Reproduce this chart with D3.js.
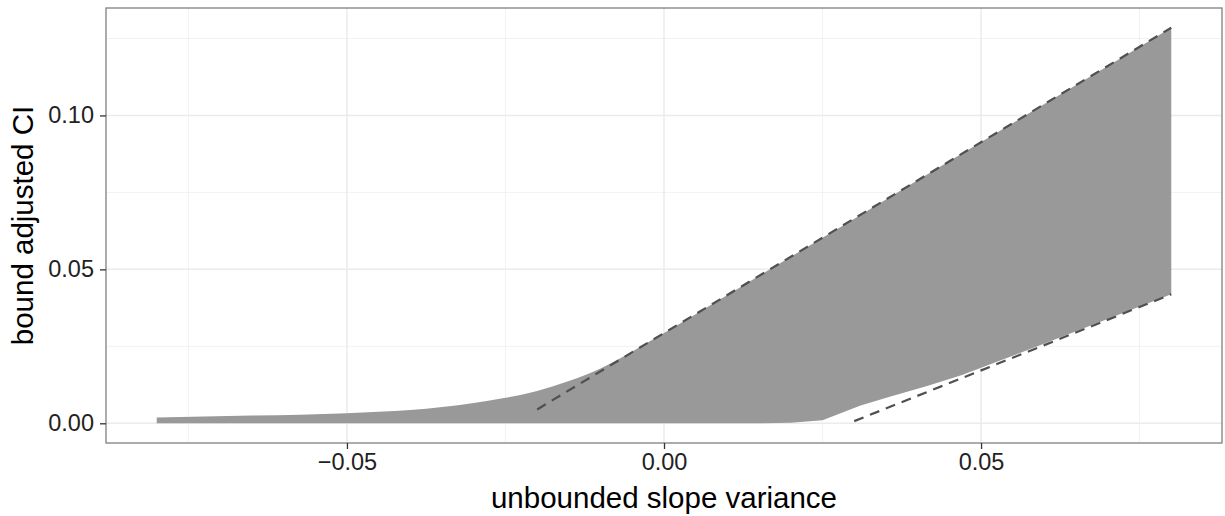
<!DOCTYPE html>
<html>
<head>
<meta charset="utf-8">
<script src="https://cdn.jsdelivr.net/npm/d3@7"></script>
<style>
  body { margin: 0; background: #fff; }
  svg { display: block; font-family: "Liberation Sans", Arial, Helvetica, sans-serif; }
</style>
</head>
<body>
<div id="chart"></div>
<script>
// ribbon
let ribbonX = [-0.08, -0.065, -0.05, -0.04, -0.035, -0.03, -0.025, -0.02, -0.015, -0.01, -0.005, 0,
  0.015, 0.02, 0.025, 0.031, 0.036, 0.0415, 0.047, 0.06, 0.08];
let ribbonUpper = [0.0019, 0.0025, 0.0033, 0.0043, 0.0053, 0.0066, 0.0083, 0.0105, 0.0137, 0.0178, 0.0233, 0.0293,
  0.0479, 0.0541, 0.0603, 0.0677, 0.0739, 0.0808, 0.0876, 0.1037, 0.1285];
let ribbonLower = [0, 0, 0, 0, 0, 0, 0, 0, 0, 0, 0, 0,
  0, 0.0002, 0.0010, 0.0058, 0.0089, 0.0121, 0.0157, 0.0259, 0.0419];

// dashed reference lines
let upperLineX = [-0.02, 0.08];
let upperLineY = [0.0045, 0.1285];
let lowerLineX = [0.03, 0.08];
let lowerLineY = [0.0007, 0.0419];

let xTicks = [-0.05, 0, 0.05];
let xMinor = [-0.075, -0.025, 0.025, 0.075];
let yTicks = [0, 0.05, 0.10];
let yMinor = [0.025, 0.075, 0.125];

let width = 1225;
let height = 516;

let panel = { left: 106, right: 1222, top: 8, bottom: 443 };

let svg = d3.select("#chart")
  .append("svg")
  .attr("width", width)
  .attr("height", height);

let xScale = d3.scaleLinear()
  .domain([-0.088, 0.088])
  .range([panel.left, panel.right]);

let yScale = d3.scaleLinear()
  .domain([-0.0064, 0.1349])
  .range([panel.bottom, panel.top]);

// grid
let grid = svg.append("g");
grid.selectAll(".xminor").data(xMinor).enter().append("line")
  .attr("x1", d => xScale(d)).attr("x2", d => xScale(d))
  .attr("y1", panel.top).attr("y2", panel.bottom)
  .attr("stroke", "#f2f2f2").attr("stroke-width", 1);
grid.selectAll(".yminor").data(yMinor).enter().append("line")
  .attr("y1", d => yScale(d)).attr("y2", d => yScale(d))
  .attr("x1", panel.left).attr("x2", panel.right)
  .attr("stroke", "#f2f2f2").attr("stroke-width", 1);
grid.selectAll(".xmajor").data(xTicks).enter().append("line")
  .attr("x1", d => xScale(d)).attr("x2", d => xScale(d))
  .attr("y1", panel.top).attr("y2", panel.bottom)
  .attr("stroke", "#ebebeb").attr("stroke-width", 1.5);
grid.selectAll(".ymajor").data(yTicks).enter().append("line")
  .attr("y1", d => yScale(d)).attr("y2", d => yScale(d))
  .attr("x1", panel.left).attr("x2", panel.right)
  .attr("stroke", "#ebebeb").attr("stroke-width", 1.5);

// ribbon: smooth upper edge, straight lower edge with its kink
let upperPts = ribbonX.map((x, i) => [x, ribbonUpper[i]]);
let lowerPts = ribbonX.map((x, i) => [x, ribbonLower[i]]).reverse();

let smoothLine = d3.line()
  .x(d => xScale(d[0]))
  .y(d => yScale(d[1]))
  .curve(d3.curveMonotoneX);
let line = d3.line()
  .x(d => xScale(d[0]))
  .y(d => yScale(d[1]));

svg.append("path")
  .attr("d", smoothLine(upperPts) + "L" + line(lowerPts).slice(1) + "Z")
  .attr("fill", "#999999");

// dashed lines
[[upperLineX, upperLineY], [lowerLineX, lowerLineY]].forEach(function(pair) {
  svg.append("path")
    .datum(pair[0].map((x, i) => [x, pair[1][i]]))
    .attr("d", line)
    .attr("fill", "none")
    .attr("stroke", "#505050")
    .attr("stroke-width", 2.2)
    .attr("stroke-dasharray", "10,7");
});

// panel border
svg.append("rect")
  .attr("x", panel.left)
  .attr("y", panel.top)
  .attr("width", panel.right - panel.left)
  .attr("height", panel.bottom - panel.top)
  .attr("fill", "none")
  .attr("stroke", "#808080")
  .attr("stroke-width", 1.3);

// axes
let xAxis = d3.axisBottom(xScale)
  .tickValues(xTicks)
  .tickSize(6)
  .tickPadding(4)
  .tickFormat(d => d3.format(".2f")(d).replace("-", "\u2212"));

let yAxis = d3.axisLeft(yScale)
  .tickValues(yTicks)
  .tickSize(6)
  .tickPadding(6)
  .tickFormat(d3.format(".2f"));

let gx = svg.append("g")
  .attr("transform", "translate(0," + panel.bottom + ")")
  .call(xAxis);
let gy = svg.append("g")
  .attr("transform", "translate(" + panel.left + ",0)")
  .call(yAxis);

[gx, gy].forEach(function(g) {
  g.select(".domain").remove();
  g.selectAll(".tick line").attr("stroke", "#333").attr("stroke-width", 1.3);
  g.selectAll(".tick text")
    .attr("fill", "#222")
    .attr("font-size", 23.5)
    .attr("font-family", "Liberation Sans, Arial, sans-serif");
});

// axis titles
svg.append("text")
  .attr("x", (panel.left + panel.right) / 2)
  .attr("y", 508)
  .attr("text-anchor", "middle")
  .attr("font-size", 29.5)
  .attr("fill", "#000")
  .text("unbounded slope variance");

svg.append("text")
  .attr("transform", "translate(33," + ((panel.top + panel.bottom) / 2) + ")rotate(-90)")
  .attr("text-anchor", "middle")
  .attr("font-size", 29.5)
  .attr("fill", "#000")
  .text("bound adjusted CI");
</script>
</body>
</html>
